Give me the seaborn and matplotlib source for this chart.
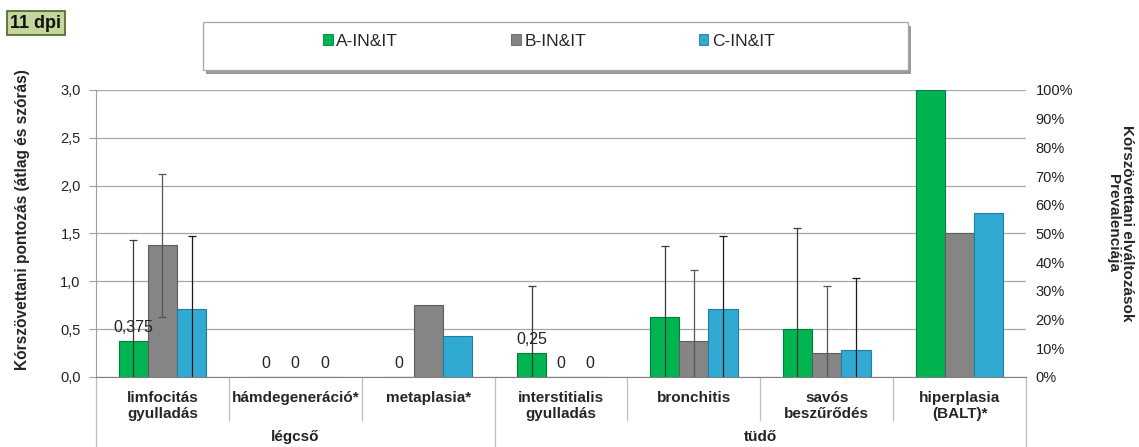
import numpy as np
import pandas as pd
import matplotlib
matplotlib.use("Agg")
import matplotlib.pyplot as plt
import seaborn as sns
from matplotlib.patches import Patch, Rectangle
from matplotlib.ticker import FuncFormatter

# ================= 1. Data =================
categories = ["limfocitás\ngyulladás", "hámdegeneráció*", "metaplasia*",
              "interstitialis\ngyulladás", "bronchitis", "savós\nbeszűrődés",
              "hiperplasia\n(BALT)*"]
groups = ["légcső", "tüdő"]
group_spans = [(0, 2), (3, 6)]
series = ["A-IN&IT", "B-IN&IT", "C-IN&IT"]

# mean score (left axis), NaN where the category is drawn on the right axis
mean_a = [0.375, 0.0, 0.0, 0.25, 0.625, 0.5, np.nan]
mean_b = [1.375, 0.0, 0.75, 0.0, 0.375, 0.25, np.nan]
mean_c = [0.714, 0.0, 0.43, 0.0, 0.714, 0.286, np.nan]

# standard deviation
sd_a = [1.06, np.nan, np.nan, 0.70, 0.74, 1.06, np.nan]
sd_b = [0.75, np.nan, np.nan, np.nan, 0.74, 0.70, np.nan]
sd_c = [0.76, np.nan, np.nan, np.nan, 0.76, 0.75, np.nan]

# prevalence (right axis), only for hiperplasia
prev_a = [np.nan] * 6 + [1.00]
prev_b = [np.nan] * 6 + [0.50]
prev_c = [np.nan] * 6 + [0.571]

# data labels shown in the chart
labels_a = ["0,375", "0", "0", "0,25", "", "", ""]
labels_b = ["", "0", "", "0", "", "", ""]
labels_c = ["", "0", "", "0", "", "", ""]

colors = ["#00B451", "#858585", "#30AAD3"]
edge_colors = ["#00813A", "#5E5E5E", "#1F7FA0"]
err_colors = ["#3A3A3A", "#555555", "#1A1A1A"]

# ================= 2. Styling =================
sns.set_style("white")
plt.rcParams['font.family'] = ['Liberation Sans', 'DejaVu Sans']
plt.rcParams['font.size'] = 10

def long_frame(values_by_series):
    rows = []
    for s, vals in zip(series, values_by_series):
        for c, v in zip(categories, vals):
            rows.append({"cat": c, "series": s, "val": v})
    return pd.DataFrame(rows)

df_left = long_frame([mean_a, mean_b, mean_c])
df_right = long_frame([prev_a, prev_b, prev_c])

fig = plt.figure(figsize=(11.39, 4.47), dpi=100)
ax = fig.add_axes([96 / 1139, 1 - 377 / 447, (1026 - 96) / 1139, 287 / 447])

sns.barplot(data=df_left, x="cat", y="val", hue="series", order=categories,
            hue_order=series, palette=colors, saturation=1, width=0.66, errorbar=None,
            legend=False, ax=ax, zorder=3)

ax2 = ax.twinx()
sns.barplot(data=df_right, x="cat", y="val", hue="series", order=categories,
            hue_order=series, palette=colors, saturation=1, width=0.66, errorbar=None,
            legend=False, ax=ax2, zorder=3)

left_bars = list(ax.containers)
for axis_bars in (left_bars, list(ax2.containers)):
    for i, cont in enumerate(axis_bars):
        for p in cont.patches:
            p.set_edgecolor(edge_colors[i])
            p.set_linewidth(0.8)

# error bars and data labels
sds = [sd_a, sd_b, sd_c]
labs = [labels_a, labels_b, labels_c]
for i, cont in enumerate(left_bars):
    for p in cont.patches:
        xc = p.get_x() + p.get_width() / 2
        k = int(round(xc))
        h = p.get_height()
        if np.isnan(h):
            continue
        if not np.isnan(sds[i][k]):
            ax.errorbar(xc, h, yerr=sds[i][k], fmt="none", ecolor=err_colors[i],
                        elinewidth=0.9, capsize=3, capthick=0.9, zorder=4)
        if labs[i][k]:
            ax.annotate(labs[i][k], (xc, h), xytext=(0, 10), textcoords="offset points",
                        ha="center", va="center", fontsize=11.5, color="#222222", zorder=5)

# ================= 3. Axes =================
ax.set_xlim(-0.5, 6.5)
ax.set_ylim(0, 3.0)
ax.set_yticks(np.arange(0, 3.01, 0.5))
ax.yaxis.set_major_formatter(FuncFormatter(lambda v, _: f"{v:.1f}".replace(".", ",")))
ax.grid(axis="y", color="#A6A6A6", linewidth=0.9, zorder=0)
ax.set_axisbelow(True)
ax.tick_params(axis="y", length=5, color="#A0A0A0", pad=6, labelsize=10.5,
               labelcolor="#222222", left=True)
ax.set_xticks(range(len(categories)))
ax.set_xticklabels(categories, fontweight="bold", fontsize=11, linespacing=1.15)
ax.tick_params(axis="x", length=0, pad=10)
ax.set_xlabel("")
ax.set_ylabel("Kórszövettani pontozás (átlag és szórás)", fontweight="bold",
              fontsize=11.2, labelpad=22)
ax.yaxis.label.set_y(0.547)
for side in ("top", "right"):
    ax.spines[side].set_visible(False)
ax.spines["left"].set_color("#A0A0A0")
ax.spines["bottom"].set_color("#808080")

ax2.set_ylim(0, 1.0)
ax2.set_yticks(np.arange(0, 1.001, 0.1))
ax2.yaxis.set_major_formatter(FuncFormatter(lambda v, _: f"{v * 100:.0f}%"))
ax2.tick_params(axis="y", length=0, pad=7, labelsize=10.5, labelcolor="#222222")
ax2.set_ylabel("Kórszövettani elváltozások\nPrevalenciája", fontweight="bold",
               fontsize=11, rotation=270, labelpad=44, linespacing=1.05)
ax2.yaxis.label.set_y(0.537)
ax2.set_xlabel("")
for side in ("top", "right", "left", "bottom"):
    ax2.spines[side].set_visible(False)

# category / group separator lines below the axis
xt = ax.get_xaxis_transform()
for b in [0.5, 1.5, 3.5, 4.5, 5.5]:
    ax.plot([b, b], [0, -0.15], transform=xt, color="#BFBFBF", lw=0.9, clip_on=False)
for b in [-0.5, 2.5, 6.5]:
    ax.plot([b, b], [0, -0.25], transform=xt, color="#BFBFBF", lw=0.9, clip_on=False)
for g, (a, b) in zip(groups, group_spans):
    ax.text((a + b) / 2, -0.21, g, transform=xt, ha="center", va="center",
            fontweight="bold", fontsize=11, color="#222222")

# ================= 4. Legend & badge =================
lx0, ly0, lw, lh = 203 / 1139, 1 - 70 / 447, 705 / 1139, 48 / 447
fig.patches.append(Rectangle((lx0 + 0.003, ly0 - 0.008), lw, lh, transform=fig.transFigure,
                             facecolor="#9A9A9A", edgecolor="none", zorder=0))
fig.patches.append(Rectangle((lx0, ly0), lw, lh, transform=fig.transFigure,
                             facecolor="white", edgecolor="#A6A6A6", lw=0.9, zorder=1))
handles = [Patch(facecolor=c, edgecolor=e, lw=0.6) for c, e in zip(colors, edge_colors)]
fig.legend(handles, series, loc="center", bbox_to_anchor=(549 / 1139, 1 - 41 / 447),
           ncol=3, frameon=False, fontsize=12.5, handlelength=0.55, handleheight=0.55,
           handletextpad=0.2, columnspacing=6.5)

fig.text(36 / 1139, 1 - 23 / 447, "11 dpi", ha="center", va="center", fontweight="bold",
         fontsize=13, color="#111111",
         bbox=dict(boxstyle="square,pad=0.2", facecolor="#C3D69B", edgecolor="#4F6228", lw=1.2))

fig.savefig("out.png", dpi=100)
